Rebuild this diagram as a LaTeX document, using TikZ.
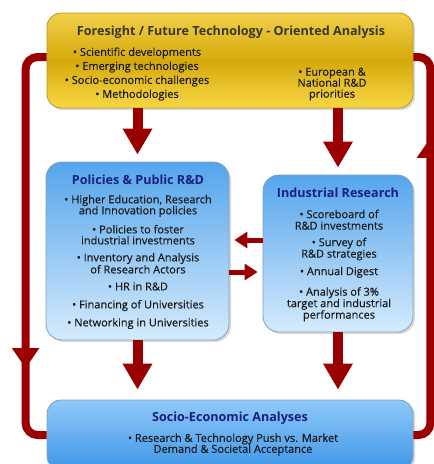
\documentclass[tikz,border=0pt]{standalone}
\usepackage{fontspec}
\setmainfont{Open Sans}
\newfontfamily\itemfont{Open Sans}[FakeBold=0.35]
\usetikzlibrary{arrows.meta,shadows,decorations.markings}
\definecolor{arrowred}{HTML}{9A0000}
\definecolor{goldtop}{HTML}{F2D049}
\definecolor{goldmid}{HTML}{D5A90C}
\definecolor{goldbot}{HTML}{F8D845}
\definecolor{goldline}{HTML}{B99428}
\definecolor{bluetop}{HTML}{55A5EC}
\definecolor{bluebot}{HTML}{D5EBFC}
\definecolor{blueline}{HTML}{7F9FBF}
\definecolor{navy}{HTML}{1B1F7E}
\definecolor{olive}{HTML}{3C3522}
\definecolor{bodytext}{HTML}{1A1A1A}

\begin{document}
\begin{tikzpicture}[x=1pt,y=-1pt,
   panel/.style={draw, line width=0.8pt, inner sep=0pt,
     drop shadow={shadow xshift=2pt,shadow yshift=-2pt,opacity=.3}},
   goldpanel/.style={panel, draw=goldline, rounded corners=14pt,
     top color=goldtop, bottom color=goldbot, middle color=goldmid},
   bluepanel/.style={panel, draw=blueline, rounded corners=16pt,
     top color=bluetop, bottom color=bluebot},
   heading/.style={font=\fontsize{12.6}{14}\selectfont\bfseries, inner sep=0pt},
   items/.style={align=center, text=bodytext, font=\itemfont\fontsize{11}{11}\selectfont, inner sep=0pt},
   bigarrow/.style={arrowred, line width=10pt, -{Triangle[width=28pt,length=26pt]}},
   smallarrow/.style={arrowred, line width=5pt, -{Triangle[width=16pt,length=13pt]}},
   loopline/.style={arrowred, line width=8pt, rounded corners=12pt, postaction={decorate},
     decoration={markings, mark=at position #1 with {\arrow{Triangle[width=26pt,length=20pt]}}}}]
   \useasboundingbox (0,0) rectangle (434,464);

   % Boxes
   \node [goldpanel, minimum width=366pt, minimum height=95pt] (foresight) at (230,60.5) {};
   \node [bluepanel, minimum width=183pt, minimum height=178pt] (policies) at (137.5,251) {};
   \node [bluepanel, minimum width=150pt, minimum height=157pt] (industrial) at (338,253.5) {};
   \node [panel, draw=blueline, rounded corners=14pt, top color={rgb,255:red,143;green,201;blue,248},
     bottom color={rgb,255:red,62;green,150;blue,232},
     minimum width=366pt, minimum height=70pt] (socio) at (230,435) {};

   % Draw feedback loops
   \draw [loopline=327pt] ([yshift=3.5pt]foresight.west) -- ++(-21,0) |- (socio.west);
   \draw [loopline=309pt] (socio.east) -- ++(17,0) |- ([yshift=3.5pt]foresight.east);

   % Texts
   \node [heading, text=olive] (fstitle) at (231,32) {Foresight / Future Technology - Oriented Analysis};
   \node [items, font=\itemfont\fontsize{11}{14}\selectfont] (fsleft) at (137,74)
     {\textbullet{} Scientific developments\\ \textbullet{} Emerging technologies\\
      \textbullet{} Socio-economic challenges\\ \textbullet{} Methodologies};
   \node [items] (fsright) at (332,84) {\textbullet{} European \&\\ National R\&D\\ priorities};

   \node [heading, text=navy] (pptitle) at (138,180) {Policies \& Public R\&D};
   \node [items] (ppitems) at (138,262)
     {\textbullet{} Higher Education, Research\\ and Innovation policies\\[7pt]
      \textbullet{} Policies to foster\\ industrial investments\\[6pt]
      \textbullet{} Inventory and Analysis\\ of Research Actors\\[6pt]
      \textbullet{} HR in R\&D\\[7pt]
      \textbullet{} Financing of Universities\\[7pt]
      \textbullet{} Networking in Universities};

   \node [heading, text=navy] (irtitle) at (338,193) {Industrial Research};
   \node [items, font=\itemfont\fontsize{11}{11.5}\selectfont] (iritems) at (339,265.5)
     {\textbullet{} Scoreboard of\\ R\&D investments\\[5pt]
      \textbullet{} Survey of\\ R\&D strategies\\[6pt]
      \textbullet{} Annual Digest\\[9pt]
      \textbullet{} Analysis of 3\%\\ target and industrial\\ performances};

   \node [heading, text=navy] (setitle) at (230,418) {Socio-Economic Analyses};
   \node [items] (seitems) at (233,444.5)
     {\textbullet{} Research \& Technology Push vs. Market\\ Demand \& Societal Acceptance};

   % Draw arrows between the boxes
   \draw [bigarrow, shorten >=7pt] (foresight.south -| policies) -- (policies.north);
   \draw [bigarrow, shorten >=7pt] (foresight.south -| industrial) -- (industrial.north);
   \draw [bigarrow, shorten >=10pt] (policies.south) -- (socio.north -| policies);
   \draw [bigarrow, shorten >=10pt] (industrial.south) -- (socio.north -| industrial);

   \coordinate (irout) at ([yshift=13.5pt]industrial.west);
   \coordinate (ppout) at ([yshift=-21pt]policies.east);
   \draw [smallarrow, shorten >=5pt] (irout) -- (irout -| policies.east);
   \draw [smallarrow, shorten >=5pt] (ppout) -- (ppout -| industrial.west);
\end{tikzpicture}
\end{document}
